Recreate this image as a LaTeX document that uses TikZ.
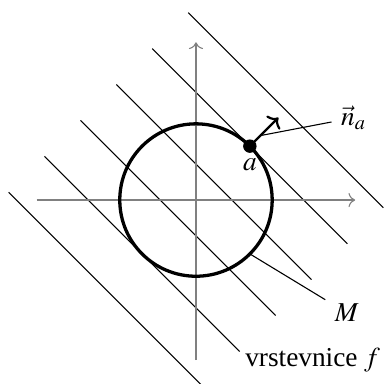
\documentclass[tikz,border=0pt]{standalone}
\usepackage{mathptmx}
\usepackage{fontspec}
\setmainfont{Liberation Serif}
\usetikzlibrary{arrows.meta, calc}

\begin{document}
\begin{tikzpicture}[
    x=0.98cm, y=0.98cm,
    axis/.style={draw=gray, thin, ->},
    level/.style={draw, thin},
    curve/.style={draw, very thick},
    normal/.style={draw, thick, -{To[length=3pt, width=7pt]}},
    dot/.style={draw, circle, fill=black, inner sep=0pt, minimum size=4.5pt},
    label text/.style={inner sep=2pt}
]
\useasboundingbox (-2.572,-2.402) rectangle (2.546,2.625);

% Level lines
\foreach \k in {-5,-3,...,5}
  \draw[level] ({\k*0.2357-1.28},{\k*0.2357+1.28}) -- ({\k*0.2357+1.28},{\k*0.2357-1.28}) coordinate (end\k);

% Axes
\coordinate (xl) at (-2.09,0);
\coordinate (xr) at (2.09,0);
\coordinate (yb) at (0,-2.1);
\coordinate (yt) at (0,2.07);
\draw[axis] (xl) -- (xr);
\draw[axis] (yb) -- (yt);

% Set M
\draw[curve] (0,0) circle (1);

% Point a and normal
\node[dot, label={[label text]below:$a$}] (a) at (45:1) {};
\draw[normal] (a.center) -- (45:1.53) coordinate (tip);

% Labels
\node (na) at (2.07,1.08) {$\vec{n}_a$};
\draw[thin] (na) -- ($(a.center)!0.37!(tip)$);

\node (M) at (1.98,-1.48) {$M$};
\draw[thin] (M) -- (-45:1);

\node[anchor=west] (vf) at (0.52,-2.1) {vrstevnice $f$};

\end{tikzpicture}
\end{document}
